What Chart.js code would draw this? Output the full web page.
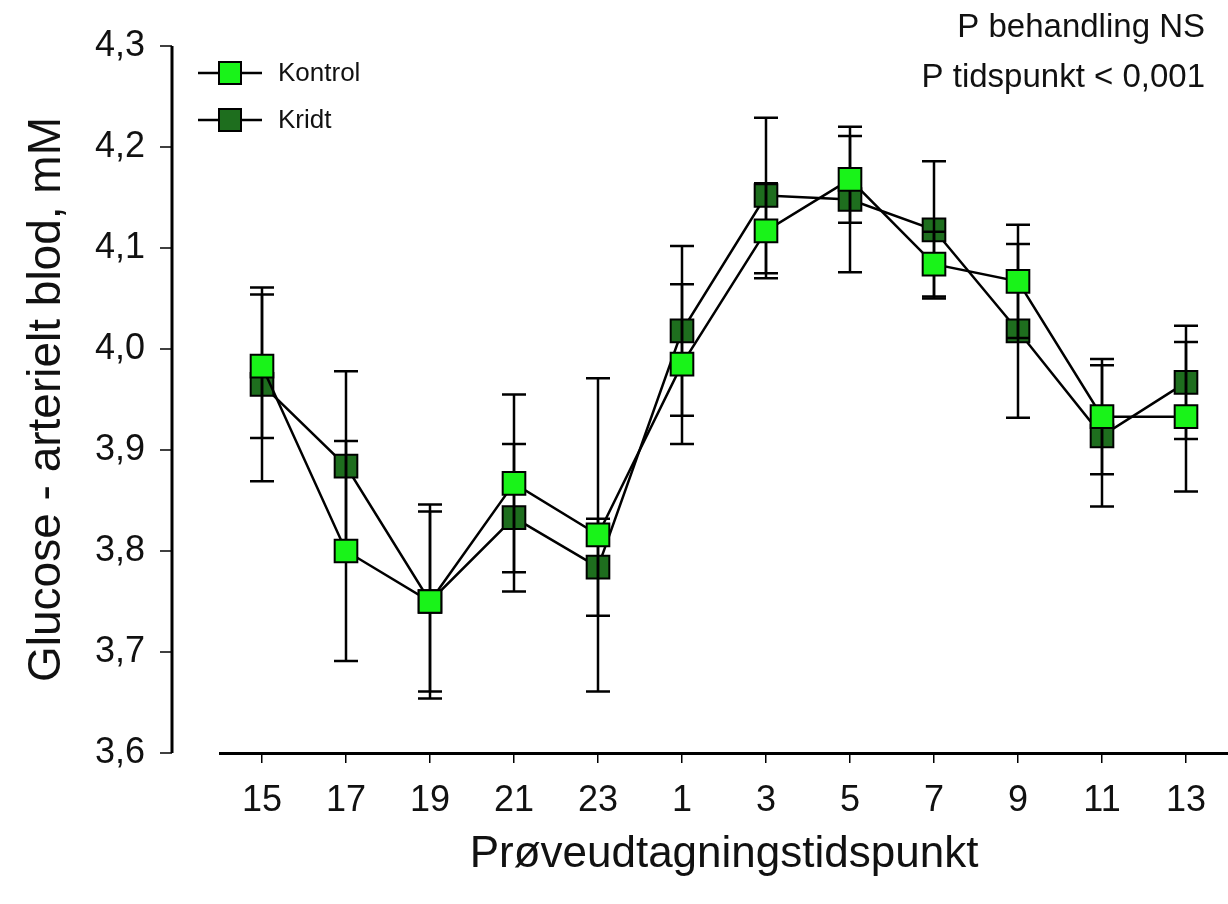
<!DOCTYPE html>
<html>
<head>
<meta charset="utf-8">
<script src="https://cdn.jsdelivr.net/npm/chart.js@4.4.1/dist/chart.umd.min.js"></script>
<style>
  html, body { margin: 0; padding: 0; background: #fff; }
  canvas { display: block; }
</style>
</head>
<body>
<canvas id="chart" width="1228" height="904"></canvas>
<script>
// Prøveudtagningstidspunkter (klokkeslæt)
const tidspunkter = ['15', '17', '19', '21', '23', '1', '3', '5', '7', '9', '11', '13'];

// Glucose i arterielt blod, mM (middel og SE)
const kontrol    = [3.983, 3.800, 3.750, 3.867, 3.816, 3.985, 4.117, 4.168, 4.084, 4.067, 3.933, 3.933];
const kontrolErr = [0.071, 0.109, 0.089, 0.088, 0.155, 0.079, 0.047, 0.043, 0.032, 0.056, 0.057, 0.074];
const kridt      = [3.965, 3.884, 3.750, 3.833, 3.784, 4.018, 4.152, 4.148, 4.118, 4.018, 3.914, 3.967];
const kridtErr   = [0.096, 0.094, 0.096, 0.073, 0.048, 0.084, 0.077, 0.072, 0.068, 0.086, 0.070, 0.056];

const yTicks = [3.6, 3.7, 3.8, 3.9, 4.0, 4.1, 4.2, 4.3];

const FONT = "'Liberation Sans', Arial, Helvetica, sans-serif";
const LYS = '#19f319';
const MORK = '#1e6e1e';

// fejlstreger tegnes mellem de to serier (Kontrol ligger øverst)
const errorBars = {
    id: 'errorBars',
    beforeDatasetDraw(chart, args) {
        if (args.index !== 0) return;
        const ctx = chart.ctx;
        const y = chart.scales.y;
        ctx.save();
        ctx.strokeStyle = '#000';
        ctx.lineWidth = 2.5;
        chart.data.datasets.forEach((ds, i) => {
            const meta = chart.getDatasetMeta(i);
            meta.data.forEach((pt, j) => {
                const v = ds.data[j], e = ds.errors[j];
                const top = y.getPixelForValue(v + e);
                const bot = y.getPixelForValue(v - e);
                ctx.beginPath();
                ctx.moveTo(pt.x, top); ctx.lineTo(pt.x, bot);
                ctx.moveTo(pt.x - 12, top); ctx.lineTo(pt.x + 12, top);
                ctx.moveTo(pt.x - 12, bot); ctx.lineTo(pt.x + 12, bot);
                ctx.stroke();
            });
        });
        ctx.restore();
    }
};

// y-aksen sidder forskudt til venstre for plotområdet
const yAxisLine = {
    id: 'yAxisLine',
    afterDraw(chart) {
        const ctx = chart.ctx;
        const y = chart.scales.y;
        const ax = 172;
        ctx.save();
        ctx.strokeStyle = '#000';
        ctx.lineWidth = 3;
        ctx.beginPath();
        ctx.moveTo(ax, y.getPixelForValue(4.3));
        ctx.lineTo(ax, y.getPixelForValue(3.6));
        ctx.stroke();
        ctx.lineWidth = 1.5;
        yTicks.forEach(t => {
            const py = y.getPixelForValue(t);
            ctx.beginPath();
            ctx.moveTo(ax - 12, py);
            ctx.lineTo(ax, py);
            ctx.stroke();
        });
        ctx.restore();
    }
};

const legendBox = {
    id: 'legendBox',
    afterDraw(chart) {
        const ctx = chart.ctx;
        const rows = [['Kontrol', LYS, 73], ['Kridt', MORK, 120]];
        ctx.save();
        rows.forEach(([navn, farve, ly]) => {
            ctx.strokeStyle = '#000';
            ctx.lineWidth = 2.5;
            ctx.beginPath();
            ctx.moveTo(198, ly); ctx.lineTo(262, ly);
            ctx.stroke();
            ctx.fillStyle = farve;
            ctx.lineWidth = 2;
            ctx.fillRect(219, ly - 11, 22, 22);
            ctx.strokeRect(219, ly - 11, 22, 22);
            ctx.fillStyle = '#111';
            ctx.font = '26px ' + FONT;
            ctx.textAlign = 'left';
            ctx.textBaseline = 'middle';
            ctx.fillText(navn, 278, ly + 1);
        });
        ctx.font = '33px ' + FONT;
        ctx.textAlign = 'right';
        ctx.fillText('P behandling NS', 1205, 28);
        ctx.fillText('P tidspunkt < 0,001', 1205, 78);
        ctx.restore();
    }
};

new Chart(document.getElementById('chart'), {
    type: 'line',
    data: {
        labels: tidspunkter,
        datasets: [
            {
                label: 'Kontrol',
                data: kontrol,
                errors: kontrolErr,
                borderColor: '#000',
                borderWidth: 2.5,
                pointStyle: 'rect',
                pointRadius: 16,
                pointBorderWidth: 2,
                pointBorderColor: '#000',
                pointBackgroundColor: LYS,
                tension: 0
            },
            {
                label: 'Kridt',
                data: kridt,
                errors: kridtErr,
                borderColor: '#000',
                borderWidth: 2.5,
                pointStyle: 'rect',
                pointRadius: 16,
                pointBorderWidth: 2,
                pointBorderColor: '#000',
                pointBackgroundColor: MORK,
                tension: 0
            }
        ]
    },
    options: {
        responsive: false,
        devicePixelRatio: 1,
        animation: false,
        layout: { autoPadding: false, padding: { top: 46, right: 0, bottom: 0, left: 0 } },
        plugins: {
            legend: { display: false },
            tooltip: { enabled: false }
        },
        scales: {
            x: {
                type: 'category',
                offset: true,
                afterFit: s => { s.height = 151; s.paddingLeft = 0; s.paddingRight = 0; },
                grid: { drawOnChartArea: false, drawTicks: true, tickLength: 10, color: '#000', lineWidth: 1.5 },
                border: { display: true, color: '#000', width: 3 },
                ticks: { color: '#111', font: { family: FONT, size: 36 }, padding: 16, maxRotation: 0 },
                title: {
                    display: true,
                    text: 'Prøveudtagningstidspunkt',
                    color: '#111',
                    font: { family: FONT, size: 44 },
                    padding: { top: 0, bottom: 23 }
                }
            },
            y: {
                min: 3.6,
                max: 4.3,
                afterFit: s => { s.width = 220; s.paddingTop = 0; s.paddingBottom = 0; },
                afterBuildTicks: s => { s.ticks = yTicks.map(v => ({ value: v })); },
                grid: { display: false, drawTicks: false },
                border: { display: false },
                ticks: {
                    color: '#111',
                    font: { family: FONT, size: 36 },
                    padding: 75,
                    callback: v => v.toFixed(1).replace('.', ',')
                },
                title: {
                    display: true,
                    text: 'Glucose - arterielt blod, mM',
                    color: '#111',
                    font: { family: FONT, size: 46 },
                    padding: { top: 20, bottom: 0 }
                }
            }
        }
    },
    plugins: [errorBars, yAxisLine, legendBox]
});
</script>
</body>
</html>
